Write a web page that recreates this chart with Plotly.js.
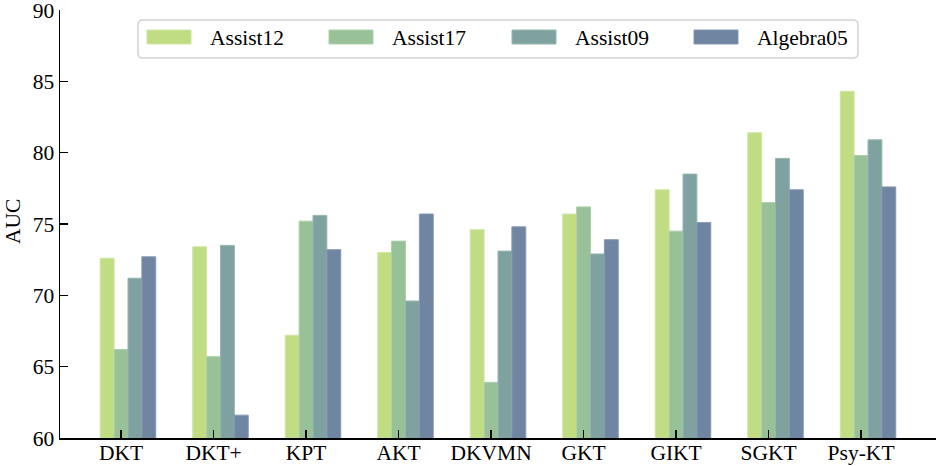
<!DOCTYPE html>
<html>
<head>
<meta charset="utf-8">
<script src="https://cdn.plot.ly/plotly-3.0.1.min.js"></script>
<style>html,body{margin:0;padding:0;background:#fff;}#chart{width:936px;height:466px;}</style>
</head>
<body>
<div id="chart"></div>
<script>
const categories = ["DKT", "DKT+", "KPT", "AKT", "DKVMN", "GKT", "GIKT", "SGKT", "Psy-KT"];
const seriesNames = ["Assist12", "Assist17", "Assist09", "Algebra05"];
const assist12  = [72.6, 73.4, 67.2, 73.0, 74.6, 75.7, 77.4, 81.4, 84.3];
const assist17  = [66.2, 65.7, 75.2, 73.8, 63.9, 76.2, 74.5, 76.5, 79.8];
const assist09  = [71.2, 73.5, 75.6, 69.6, 73.1, 72.9, 78.5, 79.6, 80.9];
const algebra05 = [72.7, 61.6, 73.2, 75.7, 74.8, 73.9, 75.1, 77.4, 77.6];
const yTicks = [60, 65, 70, 75, 80, 85, 90];
const yTitle = "AUC";

const seriesValues = [assist12, assist17, assist09, algebra05];
const colors = ["#c0dd84", "#98c198", "#7fa2a1", "#6f85a1"];
const edgeColors = ["#cfe6a0", "#acd0ab", "#95b5b3", "#8799b3"];
const FONT = "Liberation Serif, Times New Roman, serif";
const FS = 21.5;

const W = 936, H = 466;
const M = {l: 60, r: 0, t: 10, b: 28};
const plotW = W - M.l - M.r, plotH = H - M.t - M.b;
const px2x = p => (p - M.l) / plotW;
const px2y = p => (H - M.b - p) / plotH;

const barW = 0.15;
const traces = seriesValues.map((vals, i) => ({
  type: "bar",
  name: seriesNames[i],
  x: categories,
  y: vals,
  width: barW,
  offset: -0.225 + i * barW,
  marker: {color: colors[i], line: {color: edgeColors[i], width: 1}},
  showlegend: false,
  hoverinfo: "x+y+name"
}));

// custom legend (box, patches, labels)
const shapes = [];
const annotations = [];
const boxL = 138, boxR = 858, boxT = 20, boxB = 58, rad = 5;
const x0 = px2x(boxL), x1 = px2x(boxR), y0 = px2y(boxB), y1 = px2y(boxT);
const rx = rad / plotW, ry = rad / plotH;
shapes.push({
  type: "path", xref: "paper", yref: "paper",
  path: `M ${x0 + rx} ${y1} L ${x1 - rx} ${y1} Q ${x1} ${y1} ${x1} ${y1 - ry} L ${x1} ${y0 + ry} Q ${x1} ${y0} ${x1 - rx} ${y0} L ${x0 + rx} ${y0} Q ${x0} ${y0} ${x0} ${y0 + ry} L ${x0} ${y1 - ry} Q ${x0} ${y1} ${x0 + rx} ${y1} Z`,
  line: {color: "#d4d4d4", width: 1.5},
  fillcolor: "rgba(255,255,255,0.85)",
  layer: "above"
});
const patchStarts = [147, 329, 512, 694];
seriesNames.forEach((name, i) => {
  const ps = patchStarts[i];
  shapes.push({
    type: "rect", xref: "paper", yref: "paper",
    x0: px2x(ps), x1: px2x(ps + 44), y0: px2y(44), y1: px2y(30),
    fillcolor: colors[i], line: {color: edgeColors[i], width: 1}, layer: "above"
  });
  annotations.push({
    xref: "paper", yref: "paper", x: px2x(ps + 61), y: px2y(38),
    xanchor: "left", yanchor: "middle", showarrow: false,
    text: name, font: {family: FONT, size: FS, color: "#000"}
  });
});
// y-axis title
annotations.push({
  xref: "paper", yref: "paper", x: px2x(-1), y: px2y(222),
  xanchor: "left", yanchor: "middle", showarrow: false, textangle: -90,
  text: yTitle, font: {family: FONT, size: FS, color: "#000"}
});

const layout = {
  width: W, height: H,
  margin: M,
  paper_bgcolor: "#fff", plot_bgcolor: "#fff",
  font: {family: FONT, size: FS, color: "#000"},
  barmode: "overlay",
  xaxis: {
    type: "category",
    range: [-0.66, 8.81],
    showgrid: false, zeroline: false,
    showline: true, linecolor: "#000", linewidth: 1.5,
    ticks: "inside", ticklen: 8, tickwidth: 1.5, tickcolor: "#000",
    tickfont: {family: FONT, size: FS, color: "#000"},
    ticklabelstandoff: -5,
    ticklabeloverflow: "allow",
    fixedrange: true
  },
  yaxis: {
    range: [60, 90],
    tickvals: yTicks,
    showgrid: false, zeroline: false,
    showline: true, linecolor: "#000", linewidth: 1.5,
    ticks: "inside", ticklen: 8, tickwidth: 1.5, tickcolor: "#000",
    tickfont: {family: FONT, size: FS, color: "#000"},
    ticklabeloverflow: "allow",
    automargin: false,
    fixedrange: true
  },
  shapes: shapes,
  annotations: annotations
};

Plotly.newPlot("chart", traces, layout, {displayModeBar: false, staticPlot: true});
</script>
</body>
</html>
